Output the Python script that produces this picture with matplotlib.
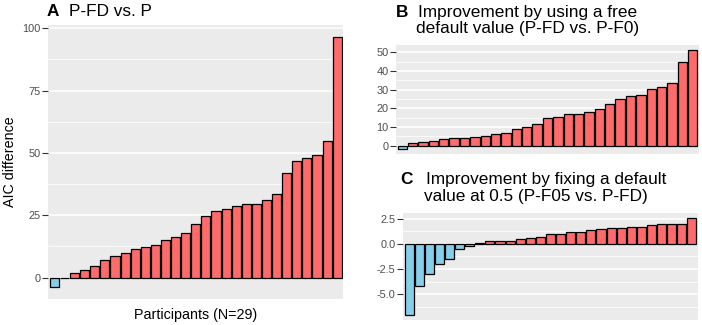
import matplotlib.pyplot as plt
import numpy as np
from matplotlib.ticker import FixedLocator, FormatStrFormatter

plt.rcParams['font.family'] = ['Liberation Sans', 'DejaVu Sans']

# AIC differences per participant, sorted
a_vals = [-3.6, 0.0, 2.0, 3.1, 4.8, 7.0, 8.5, 9.8, 11.4, 12.4, 13.2, 14.9, 16.4, 17.8,
          21.3, 24.6, 26.5, 27.3, 28.9, 29.7, 29.7, 31.1, 33.5, 41.8, 46.8, 48.0, 49.1,
          54.8, 96.3]
b_vals = [-1.8, 1.4, 2.2, 2.7, 3.8, 4.3, 4.3, 4.9, 5.4, 6.0, 6.9, 8.8, 9.9, 11.7, 14.9,
          15.5, 17.1, 17.1, 17.9, 19.7, 22.4, 24.9, 26.5, 27.4, 30.5, 31.4, 33.6, 44.6, 51.3]
c_vals = [-7.05, -4.19, -3.02, -1.95, -1.49, -0.55, -0.19, 0.06, 0.26, 0.26, 0.26, 0.49,
          0.58, 0.68, 0.97, 0.97, 1.14, 1.14, 1.36, 1.46, 1.53, 1.53, 1.62, 1.62, 1.82,
          1.92, 1.92, 1.92, 2.6]

a_ticks = [0, 25, 50, 75, 100]
b_ticks = [0, 10, 20, 30, 40, 50]
c_ticks = [-5.0, -2.5, 0.0, 2.5]

RED = '#FF6B6B'
BLUE = '#87CEEB'
W, H = 702, 325

fig = plt.figure(figsize=(W / 100, H / 100), dpi=100)


def px_axes(left, top, right, bottom):
    return fig.add_axes([left / W, 1 - bottom / H, (right - left) / W, (bottom - top) / H])


def bar_panel(ax, vals, ticks, fmt):
    x = np.arange(1, len(vals) + 1)
    colors = [BLUE if v < 0 else RED for v in vals]
    ax.bar(x, vals, width=0.9, color=colors, edgecolor='black', linewidth=0.9, zorder=3)
    ax.set_xlim(0.4, len(vals) + 0.6)
    lo, hi = min(vals), max(vals)
    pad = 0.05 * (hi - lo)
    ax.set_ylim(lo - pad, hi + pad)
    ax.set_facecolor('#EBEBEB')
    for s in ax.spines.values():
        s.set_visible(False)
    step = ticks[1] - ticks[0]
    minor = [t + step / 2 for t in [ticks[0] - step] + list(ticks)]
    ax.yaxis.set_major_locator(FixedLocator(ticks))
    ax.yaxis.set_minor_locator(FixedLocator(minor))
    ax.yaxis.set_major_formatter(FormatStrFormatter(fmt))
    ax.grid(axis='y', which='major', color='white', linewidth=1.1, zorder=0)
    ax.grid(axis='y', which='minor', color='white', linewidth=0.55, zorder=0)
    ax.set_axisbelow(True)
    ax.set_xticks([])
    ax.tick_params(axis='y', which='major', length=4.5, width=0.8, color='#333333',
                   labelcolor='#4D4D4D', labelsize=7.9, pad=0.8)
    ax.tick_params(axis='y', which='minor', length=0)


axA = px_axes(48.3, 25, 343.3, 299)
bar_panel(axA, a_vals, a_ticks, '%d')
axB = px_axes(396, 45, 699, 154)
bar_panel(axB, b_vals, b_ticks, '%d')
axC = px_axes(403, 212.7, 698, 320)
bar_panel(axC, c_vals, c_ticks, '%.1f')


def ftext(x, y, s, **kw):
    fig.text(x / W, 1 - y / H, s, **kw)


ftext(46.7, 16, 'A', fontsize=12.4, fontweight='bold', va='baseline')
ftext(69.3, 16, 'P-FD vs. P', fontsize=12.4, va='baseline')
ftext(396, 16.7, 'B', fontsize=12.4, fontweight='bold', va='baseline')
ftext(417.5, 16.7, 'Improvement by using a free', fontsize=12.4, va='baseline')
ftext(416.5, 33.3, 'default value (P-FD vs. P-F0)', fontsize=12.4, va='baseline')
ftext(400, 184, 'C', fontsize=12.4, fontweight='bold', va='baseline')
ftext(426, 184, 'Improvement by fixing a default', fontsize=12.4, va='baseline')
ftext(424, 200.7, 'value at 0.5 (P-F05 vs. P-FD)', fontsize=12.4, va='baseline')

ftext(10, 162, 'AIC difference', fontsize=10.3, rotation=90, ha='center', va='center')
ftext(196, 315, 'Participants (N=29)', fontsize=10.3, ha='center', va='center')

fig.savefig('out.png', dpi=100)
